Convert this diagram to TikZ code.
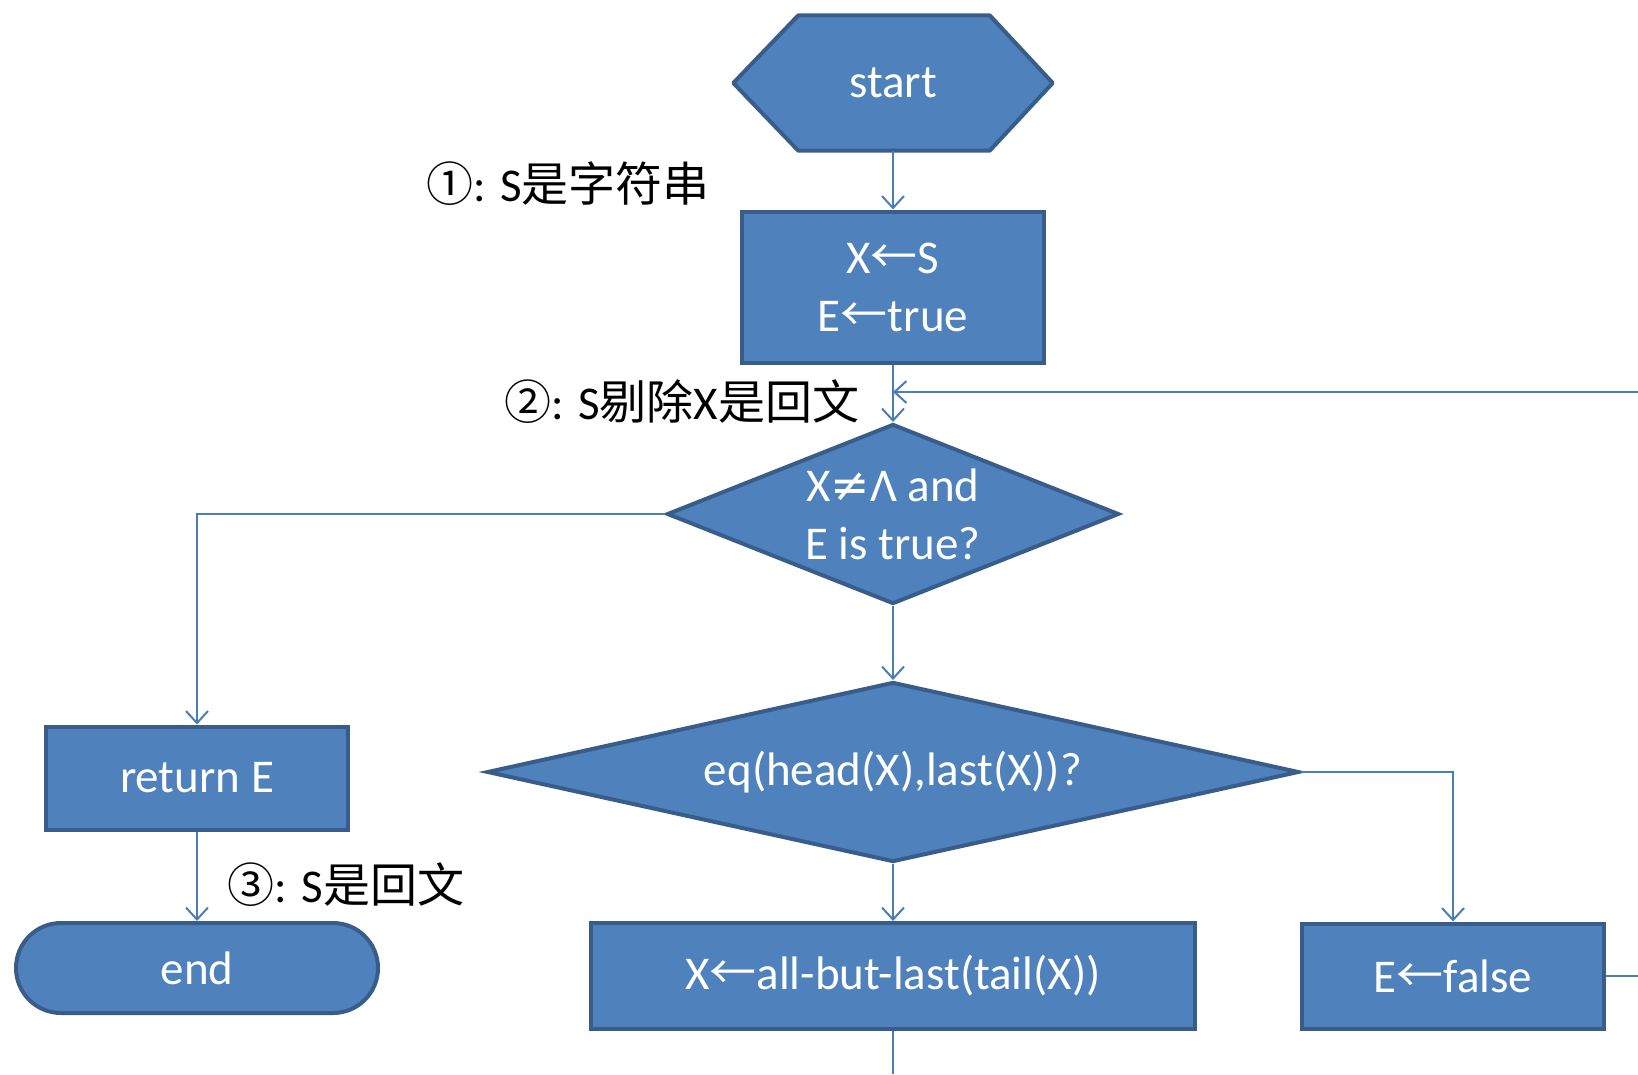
\documentclass[tikz,border=0pt]{standalone}
\usepackage{fontspec}
\setmainfont{Carlito}
\newfontfamily\cjk{Noto Sans CJK SC}
\newfontfamily\sym{DejaVu Sans}
\usetikzlibrary{shapes.geometric,arrows.meta,backgrounds}
\definecolor{boxfill}{HTML}{4F81BD}
\definecolor{boxline}{HTML}{385D8A}
\definecolor{wire}{HTML}{4A7EBB}
\newcommand{\la}{{\cjk ←}}
\begin{document}
\begin{tikzpicture}[x=1pt,y=-1pt,
  every node/.style={font=\fontsize{47}{58}\selectfont},
  shapestyle/.style={fill=boxfill,draw=boxline,line width=4pt,text=white,
    align=center,inner sep=0pt},
  procbox/.style={shapestyle,rectangle},
  decision/.style={shapestyle,diamond},
  note/.style={text=black,inner sep=0pt},
  conn/.style={draw=wire,line width=2pt,-{Straight Barb[length=12pt,width=22pt,line width=2pt]}},
  plainwire/.style={draw=wire,line width=2pt}]
\useasboundingbox (0,0) rectangle (1638,1074);

% start terminal (hexagon drawn behind its text)
\node[text=white,inner sep=0pt,minimum width=319pt,minimum height=135pt] (start) at (893,83) {start};
\begin{scope}[on background layer]
  \draw[fill=boxfill,draw=boxline,line width=4pt,line join=round]
    (start.west) -- ([xshift=65pt]start.north west) -- ([xshift=-63pt]start.north east)
    -- (start.east) -- ([xshift=-63pt]start.south east) -- ([xshift=65pt]start.south west) -- cycle;
\end{scope}

% process boxes
\node[procbox,minimum width=302pt,minimum height=151pt] (init) at (893,287) {X\la S\\E\la true};
\node[procbox,minimum width=302pt,minimum height=103pt] (ret) at (197,778) {return E};
\node[procbox,minimum width=604pt,minimum height=106pt] (shrink) at (893,976) {X\la all-but-last(tail(X))};
\node[procbox,minimum width=302pt,minimum height=105pt] (efalse) at (1453,976) {E\la false};

% decisions
\node[decision,aspect=2.5,minimum width=452pt,minimum height=180pt] (loop) at (893,514) {X{\sym ≠}Λ and\\E is true?};
\node[decision,aspect=4.48,minimum width=812pt,minimum height=180pt] (cmp) at (893,772) {eq(head(X),last(X))?};

% end terminal
\node[shapestyle,rectangle,rounded corners=45pt,minimum width=362pt,minimum height=90pt] (stop) at (197,968) {end};

% assertions
\node[note] (a1) at (568,184) {{\cjk ①}: S{\cjk 是字符串}};
\node[note] (a2) at (682,402) {{\cjk ②}: S{\cjk 剔除}X{\cjk 是回文}};
\node[note] (a3) at (346,885) {{\cjk ③}: S{\cjk 是回文}};

% loose ends leaving the drawing
\coordinate (merge) at (893,392);
\coordinate (backin) at (1638,392);
\coordinate (downout) at (893,1074);
\coordinate (rightout) at (1638,976);

% connectors
\draw[conn] (start.south) -- (init.north);
\draw[conn] (init.south) -- (loop.north);
\draw[conn] (backin) -- (merge);
\draw[conn] (loop.west) -| (ret.north);
\draw[conn] (ret.south) -- (stop.north);
\draw[conn] (loop.south) -- (cmp.north);
\draw[conn] (cmp.south) -- (shrink.north);
\draw[conn] (cmp.east) -| (efalse.north);
\draw[plainwire] (shrink.south) -- (downout);
\draw[plainwire] (efalse.east) -- (rightout);
\end{tikzpicture}
\end{document}
